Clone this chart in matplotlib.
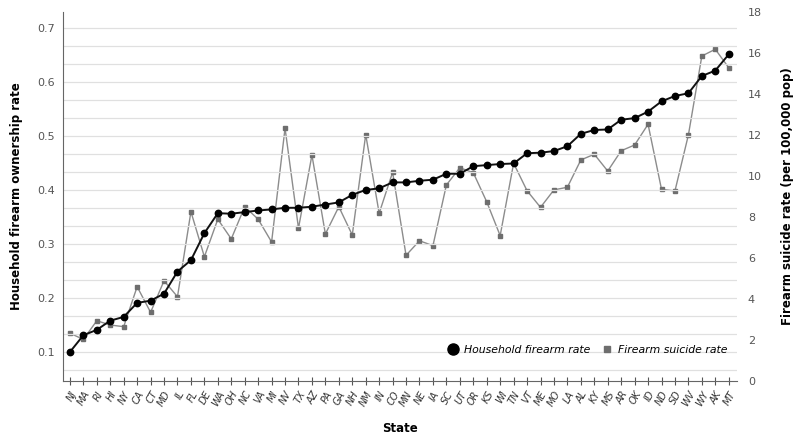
import matplotlib.pyplot as plt
import numpy as np

states = ["NJ", "MA", "RI", "HI", "NY", "CA", "CT", "MD", "IL", "FL",
          "DE", "WA", "OH", "NC", "VA", "MI", "NV", "TX", "AZ", "PA",
          "GA", "NH", "NM", "IN", "CO", "MN", "NE", "IA", "SC", "UT",
          "OR", "KS", "WI", "TN", "VT", "ME", "MO", "LA", "AL", "KY",
          "MS", "AR", "OK", "ID", "ND", "SD", "WV", "WY", "AK", "MT"]

household_rate = [0.100, 0.131, 0.141, 0.158, 0.165, 0.191, 0.195, 0.208, 0.249, 0.270,
                  0.320, 0.357, 0.356, 0.359, 0.362, 0.364, 0.367, 0.367, 0.369, 0.373,
                  0.377, 0.391, 0.400, 0.403, 0.414, 0.414, 0.417, 0.419, 0.430, 0.430,
                  0.444, 0.446, 0.448, 0.449, 0.468, 0.469, 0.472, 0.481, 0.504, 0.511,
                  0.512, 0.530, 0.533, 0.545, 0.564, 0.574, 0.579, 0.611, 0.621, 0.651]

suicide_rate = [2.33, 2.03, 2.94, 2.73, 2.65, 4.60, 3.35, 4.89, 4.11, 8.26,
                6.06, 7.89, 6.93, 8.50, 7.89, 6.78, 12.33, 7.45, 11.02, 7.17,
                8.50, 7.12, 12.02, 8.18, 10.18, 6.13, 6.84, 6.60, 9.56, 10.40,
                10.16, 8.74, 7.09, 10.62, 9.28, 8.47, 9.32, 9.45, 10.78, 11.06,
                10.24, 11.23, 11.51, 12.52, 9.35, 9.27, 12.00, 15.85, 16.18, 15.28]

x = np.arange(len(states))

fig = plt.figure(figsize=(8, 4.42), dpi=100)
ax = fig.add_axes([0.079, 0.138, 0.842, 0.835])
ax2 = ax.twinx()

ax.set_ylim(0.0463, 0.7296)
ax2.set_ylim(0, 18)
ax.set_xlim(-0.5, 49.6)

# light horizontal grid, three lines per 0.1 step
for g in np.arange(0.7, 0.05, -1 / 30):
    ax.axhline(g, color="#e0e0e0", lw=0.9, zorder=0)

ax.set_zorder(2)
ax.patch.set_visible(False)
ax2.set_zorder(1)

ax2.plot(x, suicide_rate, color="#8c8c8c", lw=1.0, marker="s", markersize=3.2,
         markerfacecolor="#6e6e6e", markeredgecolor="#6e6e6e", label="Firearm suicide rate")
ax.plot(x, household_rate, color="#111111", lw=1.4, marker="o", markersize=4.6,
        markerfacecolor="black", markeredgecolor="black", label="Household firearm rate")

ax.set_yticks([0.1, 0.2, 0.3, 0.4, 0.5, 0.6, 0.7])
ax.set_yticklabels(["0.1", "0.2", "0.3", "0.4", "0.5", "0.6", "0.7"])
ax2.set_yticks(np.arange(0, 19, 2))
ax.set_xticks(x)
ax.set_xticklabels(states, rotation=60, ha="right", rotation_mode="anchor",
                   fontstyle="italic", fontsize=7, color="#333333")

ax.tick_params(axis="y", length=0, labelsize=8, colors="#555555", pad=6)
ax2.tick_params(axis="y", length=0, labelsize=8, colors="#555555", pad=8)
ax.tick_params(axis="x", direction="inout", length=6, color="#555555", pad=3)

for s in ["top", "right"]:
    ax.spines[s].set_visible(False)
for s in ["top", "right", "left", "bottom"]:
    ax2.spines[s].set_visible(False)
ax.spines["left"].set_color("#666666")
ax.spines["bottom"].set_color("#666666")

ax.set_ylabel("Household firearm ownership rate", fontsize=8.5, fontweight="bold", labelpad=10)
ax2.set_ylabel("Firearm suicide rate (per 100,000 pop)", fontsize=8.5, fontweight="bold", labelpad=14)
ax.set_xlabel("State", fontsize=8.5, fontweight="bold", labelpad=10)

h1, l1 = ax.get_legend_handles_labels()
h2, l2 = ax2.get_legend_handles_labels()
leg = ax.legend(h1 + h2, l1 + l2, loc="lower right", bbox_to_anchor=(1.0, 0.045), ncol=2,
                frameon=False, prop={"style": "italic", "size": 7.8}, handlelength=1.0,
                columnspacing=1.0, handletextpad=0.5)
for h in leg.legend_handles:
    h.set_linestyle("none")
leg.legend_handles[0].set_markersize(8)
leg.legend_handles[1].set_markersize(5)

fig.savefig("out.png", dpi=100)
